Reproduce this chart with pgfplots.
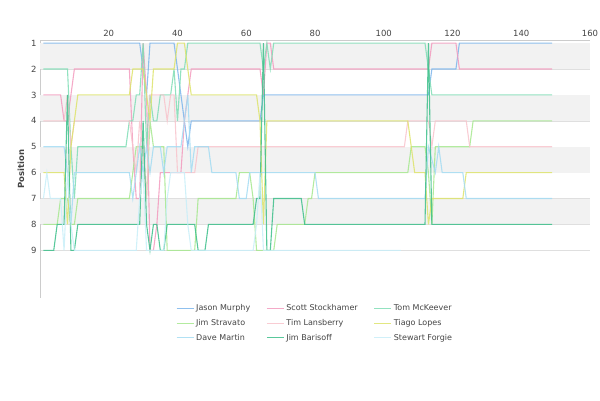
\documentclass[border=0pt]{standalone}
\usepackage{pgfplots}
\pgfplotsset{compat=1.18}
\usepackage{fontspec}
\setmainfont{DejaVu Sans}
\definecolor{cJM}{HTML}{7CB5EC}
\definecolor{cSS}{HTML}{F39BBE}
\definecolor{cTM}{HTML}{7FDDB5}
\definecolor{cJS}{HTML}{A6E88F}
\definecolor{cTL}{HTML}{F8C4CC}
\definecolor{cTG}{HTML}{DDE36B}
\definecolor{cDM}{HTML}{A4DCF3}
\definecolor{cJB}{HTML}{3CBF8A}
\definecolor{cSF}{HTML}{C8EEF8}
\definecolor{tk}{HTML}{444444}
\begin{document}
\begin{tikzpicture}
\path[use as bounding box] (0pt,0pt) rectangle (600pt,-400pt);
\begin{axis}[
 at={(40pt,-298pt)}, anchor=south west, scale only axis,
 width=550pt, height=258pt,
 xmin=0, xmax=160, ymin=0.88, ymax=10.84, y dir=reverse,
 axis x line*=top, axis y line*=left,
 xtick={20,40,...,160}, ytick={1,...,9},
 tick label style={font=\fontsize{8.5}{10}\selectfont, text=tk},
 /pgf/number format/assume math mode=true,
 major tick length=0pt,
 axis line style={draw=gray!40},
 ymajorgrids, grid style={gray!25},
 ylabel={\bfseries Position}, ylabel style={font=\fontsize{8.5}{10}\selectfont, text=tk},
 legend columns=3,
 legend style={at={(0.5,-0.01)}, anchor=north, draw=none, fill=white,
   font=\fontsize{8}{10}\selectfont, text=tk, /tikz/every even column/.append style={column sep=14pt},
   row sep=3pt},
 legend cell align=left,
 every axis plot/.append style={line width=1.1pt, opacity=0.85, no markers},
 clip=true,
]
\fill[gray!10] (axis cs:0,1) rectangle (axis cs:160,2);
\fill[gray!10] (axis cs:0,3) rectangle (axis cs:160,4);
\fill[gray!10] (axis cs:0,5) rectangle (axis cs:160,6);
\fill[gray!10] (axis cs:0,7) rectangle (axis cs:160,8);
\addplot[cJM] coordinates {(1,1)(29,1)(30,2)(31,3)(32,1)(39,1)(40,2)(41,3)(42,4)(43,5)(44,4)(64,4)(65,3)(113,3)(114,2)(121,2)(122,1)(149,1)};
\addlegendentry{Jason Murphy}
\addplot[cSS] coordinates {(1,3)(6,3)(7,4)(8,4)(9,3)(10,2)(26,2)(27,5)(28,7)(29,7)(30,1)(31,3)(32,9)(33,9)(34,8)(35,6)(41,6)(42,4)(43,3)(44,2)(64,2)(65,3)(66,1)(67,1)(68,2)(113,2)(114,1)(121,1)(122,2)(149,2)};
\addlegendentry{Scott Stockhamer}
\addplot[cTM] coordinates {(1,2)(8,2)(9,5)(10,7)(11,5)(25,5)(26,4)(27,4)(28,3)(29,3)(30,1)(31,5)(32,3)(33,4)(34,4)(35,3)(38,3)(39,2)(40,4)(41,2)(42,2)(43,1)(64,1)(65,2)(66,1)(67,2)(68,1)(112,1)(113,2)(114,3)(149,3)};
\addlegendentry{Tom McKeever}
\addplot[cJS] coordinates {(1,8)(5,8)(6,7)(8,7)(9,8)(10,8)(11,7)(26,7)(27,6)(28,5)(30,5)(31,7)(32,4)(33,5)(36,5)(37,9)(45,9)(46,7)(57,7)(58,6)(61,6)(62,7)(63,9)(68,9)(69,8)(77,8)(78,7)(79,7)(80,6)(107,6)(108,5)(112,5)(113,6)(114,8)(115,5)(125,5)(126,4)(149,4)};
\addlegendentry{Jim Stravato}
\addplot[cTL] coordinates {(1,4)(7,4)(8,3)(9,5)(10,4)(26,4)(27,5)(28,6)(29,4)(30,5)(31,7)(32,3)(36,3)(37,4)(38,3)(39,3)(40,6)(45,6)(46,5)(106,5)(107,4)(113,4)(114,5)(115,4)(124,4)(125,5)(149,5)};
\addlegendentry{Tim Lansberry}
\addplot[cTG] coordinates {(1,6)(7,6)(8,8)(9,5)(10,4)(11,3)(26,3)(27,2)(30,2)(31,3)(32,4)(33,2)(39,2)(40,1)(42,1)(43,2)(44,3)(63,3)(64,4)(65,8)(66,4)(107,4)(108,5)(109,6)(112,6)(113,8)(114,7)(123,7)(124,6)(149,6)};
\addlegendentry{Tiago Lopes}
\addplot[cDM] coordinates {(1,5)(7,5)(8,6)(9,8)(10,6)(26,6)(27,7)(28,6)(29,5)(30,6)(31,5)(32,6)(33,5)(35,5)(36,6)(37,5)(41,5)(42,4)(43,3)(44,6)(45,5)(49,5)(50,6)(57,6)(58,7)(60,7)(61,6)(67,6)(80,6)(81,7)(112,7)(113,5)(115,6)(116,5)(117,6)(123,6)(124,7)(149,7)};
\addlegendentry{Dave Martin}
\addplot[cJB] coordinates {(1,9)(4,9)(5,8)(7,8)(8,3)(9,9)(10,9)(11,8)(28,8)(29,8)(30,4)(31,8)(32,9)(33,8)(34,8)(35,9)(36,9)(37,8)(45,8)(46,9)(48,9)(49,8)(62,8)(63,7)(64,7)(65,1)(66,9)(67,9)(68,7)(76,7)(77,8)(112,8)(113,1)(114,8)(149,8)};
\addlegendentry{Jim Barisoff}
\addplot[cSF] coordinates {(1,7)(2,6)(3,7)(6,7)(7,9)(8,6)(9,8)(10,9)(11,9)(28,9)(29,7)(30,6)(31,9)(36,9)(37,7)(38,6)(42,6)(43,8)(44,9)(62,9)(63,8)(64,6)(65,9)(105,9)};
\addlegendentry{Stewart Forgie}
\end{axis}
\end{tikzpicture}
\end{document}
